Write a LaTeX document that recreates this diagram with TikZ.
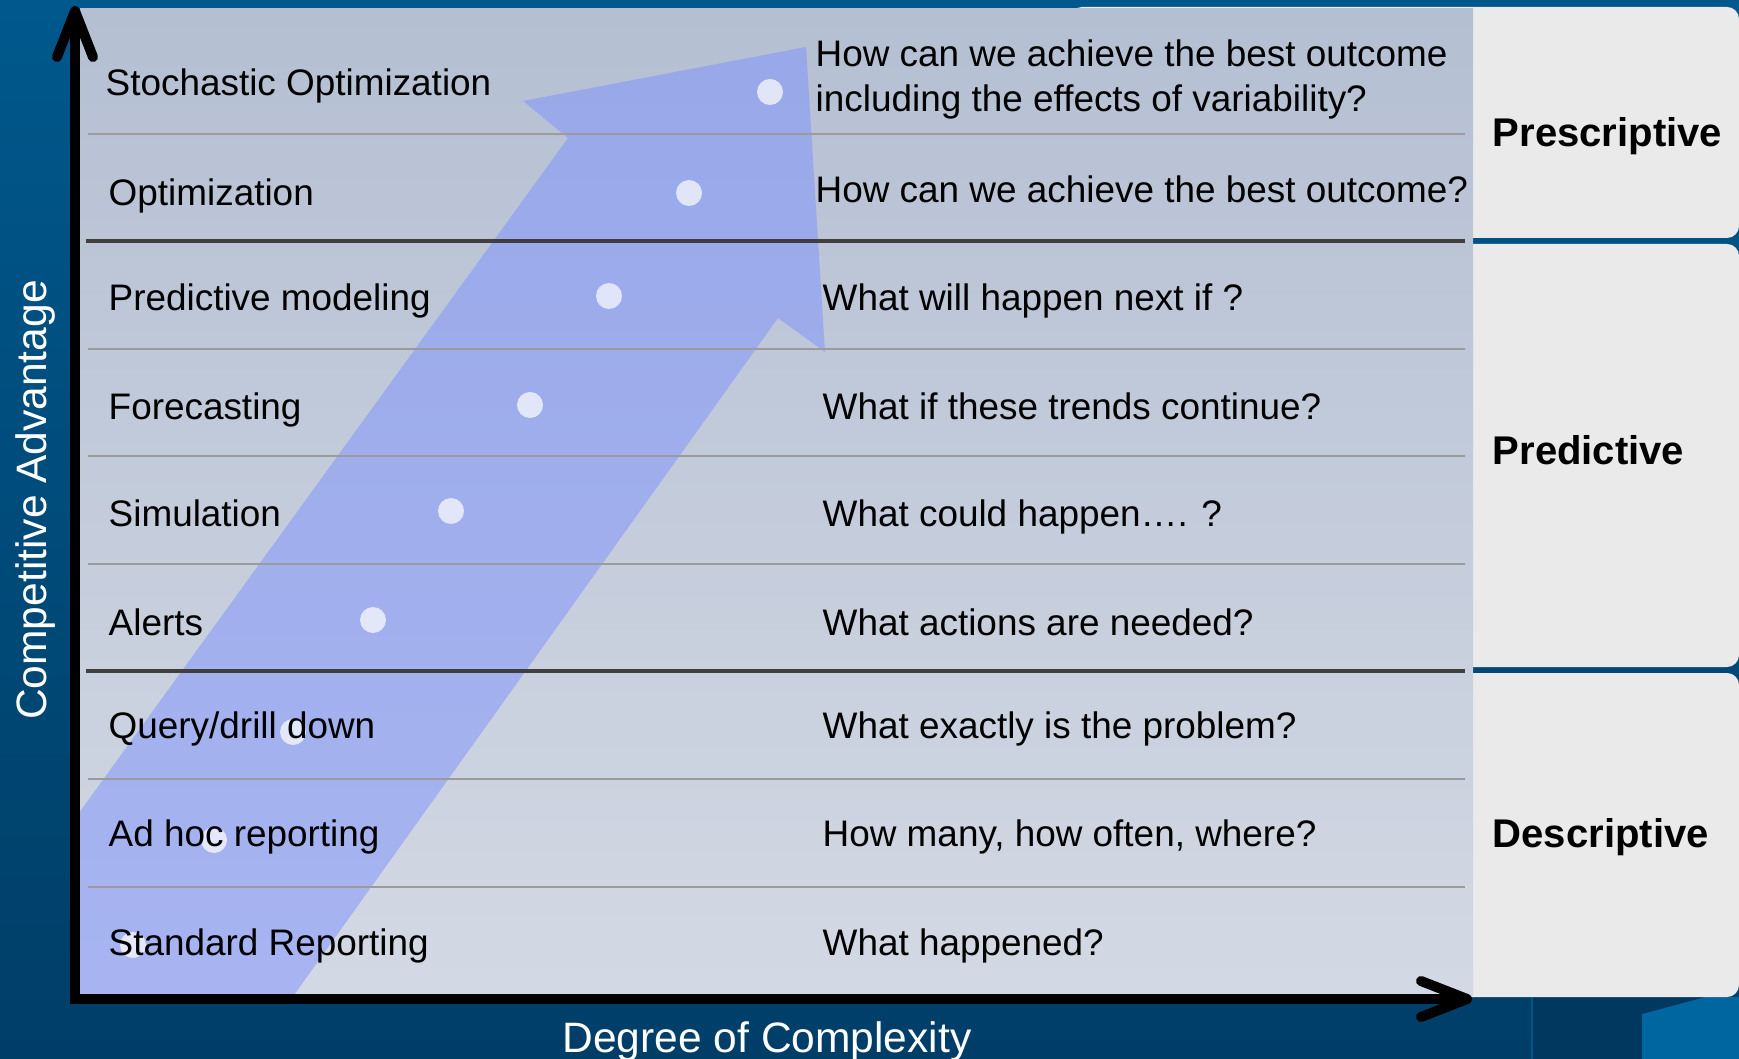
\documentclass[tikz,border=0pt]{standalone}
\usepackage{fontspec}
\setmainfont{Liberation Sans}
\usetikzlibrary{arrows.meta}

\definecolor{bgtop}{RGB}{0,88,140}
\definecolor{bgbot}{RGB}{0,62,104}
\definecolor{bgdark}{RGB}{0,56,96}
\definecolor{bglight}{RGB}{0,102,160}
\definecolor{bgmid}{RGB}{0,84,136}
\definecolor{boxgrey}{RGB}{234,234,234}
\definecolor{paneltop}{RGB}{180,191,210}
\definecolor{panelbot}{RGB}{211,217,228}
\definecolor{sepgrey}{RGB}{155,155,155}
\definecolor{sepdark}{RGB}{63,63,63}
\definecolor{bandblue}{RGB}{125,145,255}

\newcommand\rowfont{\fontsize{10.5pt}{12.6pt}\selectfont}
\newcommand\groupfont{\fontsize{11.4pt}{13.6pt}\selectfont\bfseries}
\newcommand\axisfont{\fontsize{12.1pt}{14.5pt}\selectfont}

\tikzset{
  rowlbl/.style={anchor=base west, inner sep=0pt, font=\rowfont},
  grouplbl/.style={anchor=base west, inner sep=0pt, font=\groupfont},
  axislbl/.style={anchor=base, inner sep=0pt, font=\axisfont, text=white},
  thinsep/.style={draw=sepgrey, line width=0.6pt},
  thicksep/.style={draw=sepdark, line width=1.2pt},
  band/.style={fill=bandblue, fill opacity=0.5},
  dot/.style={fill=white, fill opacity=0.7},
  axtip/.tip={Straight Barb[length=4.6mm, width=3.6mm, line cap=round, line join=round]},
  axis/.style={line width=2.85pt, line join=miter, axtip-axtip}
}

\begin{document}
\begin{tikzpicture}[x=0.1mm, y=-0.1mm]
  \useasboundingbox (0,0) rectangle (1739,1059);

  % backdrop
  \shade[top color=bgtop, bottom color=bgbot] (0,0) rectangle (1739,1059);
  \fill[bgdark] (1532,997) rectangle (1642,1059);
  \fill[bglight] (1642,997) rectangle (1739,1059);
  \fill[bgdark] (1642,997) -- (1705,997) -- (1642,1014) -- cycle;
  \draw[bgmid, line width=0.5pt] (1532,997) -- (1532,1059);

  % group boxes
  \fill[boxgrey, rounded corners=1.2mm] (1070,7) rectangle (1739,238);
  \fill[boxgrey, rounded corners=1.2mm] (1300,244) rectangle (1739,667);
  \fill[boxgrey, rounded corners=1.2mm] (1300,673) rectangle (1739,997);

  % table area
  \shade[top color=paneltop, bottom color=panelbot] (80,9) rectangle (1473,995);

  % rising arrow with its dots
  \begin{scope}
    \clip (80,9) rectangle (1473,995);
    \fill[band] (-53,995) -- (568,138) -- (523,101) -- (806,47)
      -- (825,352) -- (778,318) -- (294,995) -- cycle;
    \foreach \x/\y in {770/92, 689/193, 609/296, 530/405, 451/511,
                       373/620, 293/732, 214/840, 133/945}
      \fill[dot] (\x,\y) circle (13);
  \end{scope}

  % row separators
  \foreach \y in {134,349,456,564,779,887}
    \draw[thinsep] (88,\y) -- (1465,\y);
  \foreach \y in {241,671}
    \draw[thicksep] (86,\y) -- (1465,\y);

  % axes
  \coordinate (origin) at (75,999);
  \coordinate (ytip) at (75,6);
  \coordinate (xtip) at (1472,999);
  \draw[axis] (ytip) |- (xtip);

  % rows
  \node[rowlbl] (lbl1) at (105,96) {Stochastic Optimization};
  \node[rowlbl] (q1a) at (815,67) {How can we achieve the best outcome};
  \node[rowlbl] (q1b) at (815,112) {including the effects of variability?};
  \node[rowlbl] (lbl2) at (108,206) {Optimization};
  \node[rowlbl] (q2) at (815,203) {How can we achieve the best outcome?};
  \foreach \n/\lbl/\q/\yb in {
      3/{Predictive modeling}/{What will happen next if ?}/311,
      4/Forecasting/{What if these trends continue?}/420,
      5/Simulation/{What could happen…. ?}/527,
      6/Alerts/{What actions are needed?}/635,
      7/{Query/drill down}/{What exactly is the problem?}/738,
      8/{Ad hoc reporting}/{How many, how often, where?}/846,
      9/{Standard Reporting}/{What happened?}/955} {
    \node[rowlbl] (lbl\n) at (108,\yb) {\lbl};
    \node[rowlbl] (q\n) at (822,\yb) {\q};
  }

  % groups
  \node[grouplbl] (presc) at (1492,147) {Prescriptive};
  \node[grouplbl] (pred) at (1492,465) {Predictive};
  \node[grouplbl] (desc) at (1492,847) {Descriptive};

  % axis names
  \node[axislbl, rotate=90] (yname) at (46,500) {Competitive Advantage};
  \node[axislbl] (xname) at (767,1052) {Degree of Complexity};
\end{tikzpicture}
\end{document}
